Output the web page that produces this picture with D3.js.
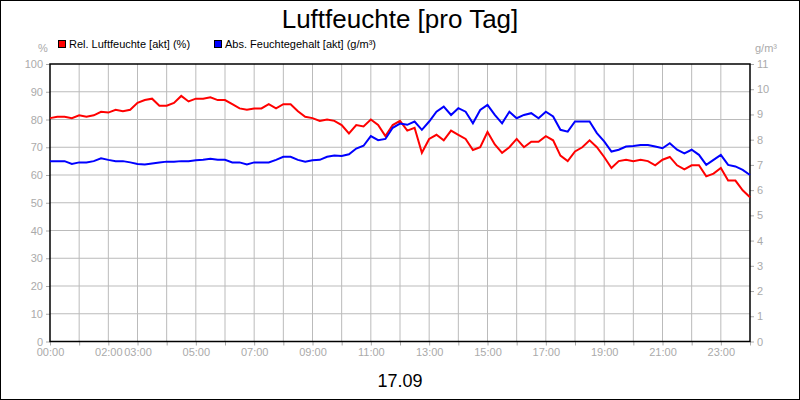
<!DOCTYPE html>
<html><head><meta charset="utf-8">
<script src="https://cdn.jsdelivr.net/npm/d3@7"></script>
<style>body{margin:0;background:#fff}svg{display:block}</style>
</head><body><svg id="c" width="800" height="400"></svg>
<script>
const relHum = [80.5,81,81,80.5,81.5,81,81.5,82.8,82.5,83.5,83,83.5,86,87,87.5,85,85,86,88.5,86.5,87.5,87.5,88,87,87,85.5,84,83.5,84,84,85.5,84,85.5,85.5,83,81,80.5,79.5,80,79.5,78,75,78,77.5,80,78,74,78,79.5,
76,77,68,73,74.5,72.5,76,74.5,73,69,70,75.5,71,68,70,73,70,72,72,74,72.5,67,65,68.5,70,72.5,70,66.5,62.5,65,65.5,65,65.5,65,63.5,65.5,66.5,63.5,62,63.5,63.5,59.5,60.5,62.5,58,58,54.5,52];
const absHum = [7.15,7.15,7.15,7.04,7.1,7.1,7.15,7.26,7.2,7.15,7.15,7.1,7.04,7.02,7.06,7.1,7.13,7.13,7.15,7.15,7.18,7.2,7.24,7.2,7.2,7.1,7.1,7.02,7.1,7.1,7.1,7.2,7.32,7.32,7.2,7.13,7.18,7.2,7.32,7.37,7.35,7.42,7.65,7.76,8.14,7.98,8.03,8.47,8.64,
8.59,8.72,8.39,8.72,9.11,9.31,8.98,9.25,9.11,8.65,9.18,9.38,8.98,8.65,9.11,8.85,8.98,9.05,8.85,9.11,8.92,8.39,8.32,8.72,8.72,8.72,8.26,7.93,7.53,7.6,7.73,7.75,7.79,7.79,7.73,7.66,7.86,7.6,7.46,7.6,7.4,7.0,7.2,7.4,7.0,6.94,6.8,6.6];
const stepMinutes = 15;
const xTickHours = [0,2,3,5,7,9,11,13,15,17,19,21,23];
const leftTicks = [0,10,20,30,40,50,60,70,80,90,100];
const rightTicks = [0,1,2,3,4,5,6,7,8,9,10,11];

const svg = d3.select('#c');
const L=50,R=750,T=64,B=341.5;
const x = d3.scaleLinear().domain([0,24]).range([L,R]);
const yL = d3.scaleLinear().domain([0,100]).range([B,T]);
const yR = d3.scaleLinear().domain([0,11]).range([B,T]);
const font='Arial, "Liberation Sans", sans-serif';
svg.append('rect').attr('x',0.5).attr('y',0.5).attr('width',799).attr('height',399).attr('fill','#fff').attr('stroke','#000');
const g = svg.append('g');
// grid
g.selectAll('.vg').data(d3.range(1,24)).join('line').attr('x1',d=>x(d)).attr('x2',d=>x(d)).attr('y1',T).attr('y2',B).attr('stroke','#bbb');
g.selectAll('.hg').data(leftTicks.slice(1,-1)).join('line').attr('y1',d=>yL(d)).attr('y2',d=>yL(d)).attr('x1',L).attr('x2',R).attr('stroke','#bbb');
// axes
const axL = d3.axisLeft(yL).tickValues(leftTicks).tickSize(4).tickPadding(3);
const axR = d3.axisRight(yR).tickValues(rightTicks).tickSize(4).tickPadding(3);
const axB = d3.axisBottom(x).tickValues(d3.range(0,25)).tickSize(4).tickPadding(3).tickFormat(d=>xTickHours.includes(d)?String(d).padStart(2,'0')+':00':'');
function style(sel){sel.selectAll('text').attr('fill','#aaa').style('font-family',font).style('font-size','11px');sel.selectAll('.tick line').attr('stroke','#aaa');sel.select('.domain').remove();}
g.append('g').attr('transform',`translate(${L},0)`).call(axL).call(style);
g.append('g').attr('transform',`translate(${R},0)`).call(axR).call(style);
g.append('g').attr('transform',`translate(0,${B})`).call(axB).call(style);
svg.append('rect').attr('x',L).attr('y',T).attr('width',R-L).attr('height',B-T).attr('fill','none').attr('stroke','#000').attr('stroke-width',1.5);
// lines
const t = i=>i*stepMinutes/60;
const lr = d3.line().x((d,i)=>x(t(i))).y(d=>yL(d));
const la = d3.line().x((d,i)=>x(t(i))).y(d=>yR(d));
svg.append('path').attr('d',lr(relHum)).attr('fill','none').attr('stroke','#f00').attr('stroke-width',2);
svg.append('path').attr('d',la(absHum)).attr('fill','none').attr('stroke','#00f').attr('stroke-width',2);
// texts
svg.append('text').attr('x',400).attr('y',28).attr('text-anchor','middle').style('font-family',font).style('font-size','26px').text('Luftfeuchte [pro Tag]');
svg.append('text').attr('x',400).attr('y',387).attr('text-anchor','middle').style('font-family',font).style('font-size','18px').text('17.09');
svg.append('text').attr('x',43).attr('y',52).attr('text-anchor','middle').attr('fill','#aaa').style('font-family',font).style('font-size','11px').text('%');
svg.append('text').attr('x',766).attr('y',52).attr('text-anchor','middle').attr('fill','#aaa').style('font-family',font).style('font-size','11px').text('g/m³');
const leg=[{c:'#f00',t:'Rel. Luftfeuchte [akt] (%)',x:58},{c:'#00f',t:'Abs. Feuchtegehalt [akt] (g/m³)',x:214}];
leg.forEach(l=>{svg.append('rect').attr('x',l.x+0.5).attr('y',40.5).attr('width',7).attr('height',7).attr('fill',l.c).attr('stroke','#000');
svg.append('text').attr('x',l.x+11).attr('y',48).style('font-family',font).style('font-size','11px').text(l.t);});
</script></body></html>
